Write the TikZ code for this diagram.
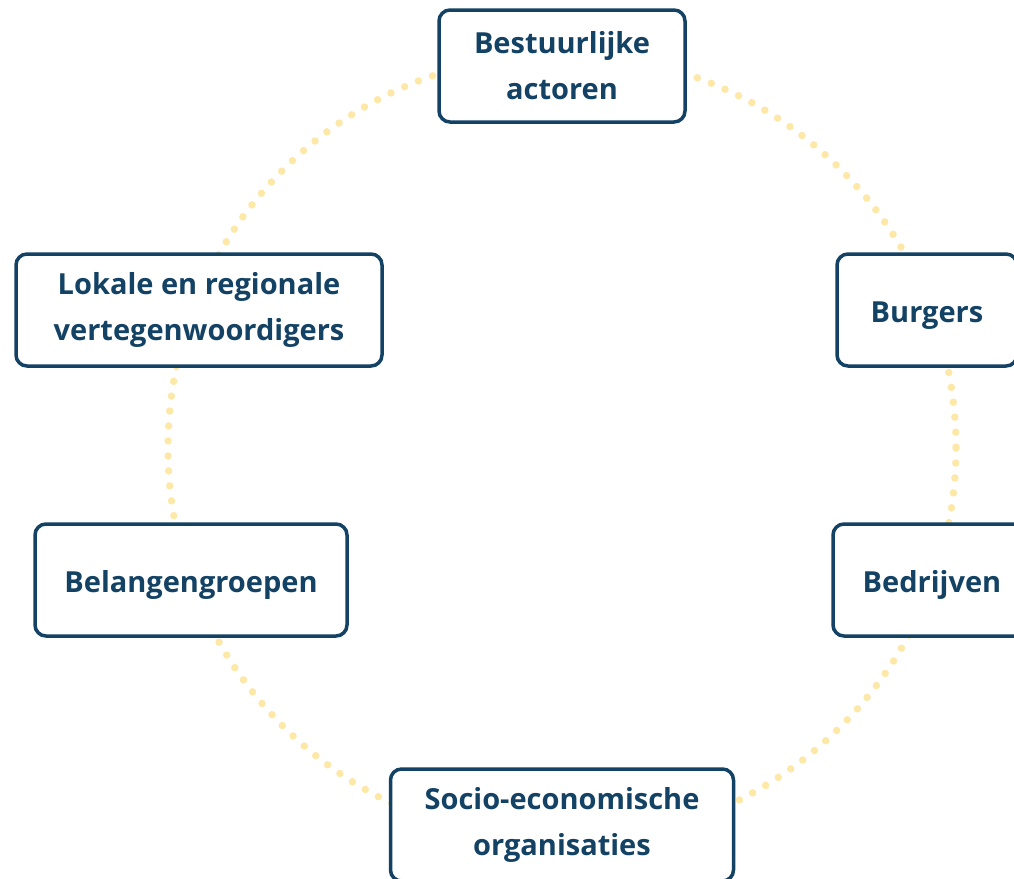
\documentclass[tikz,border=0pt]{standalone}
\usepackage{fontspec}
\setmainfont{Open Sans}
\usetikzlibrary{positioning}
\definecolor{navy}{HTML}{134264}
\definecolor{sand}{HTML}{FDE8A8}
\tikzset{
	actor/.style={
		draw=navy, text=navy, fill=white,
		line width=3.5pt, rounded corners=11pt,
		align=center, inner sep=0pt,
		font=\bfseries\fontsize{29}{46}\selectfont,
		minimum height=112pt},
	oneline/.style={text height=28pt, text depth=3pt},
	ring/.style={draw=sand, line width=7.5pt, line cap=round,
		dash pattern=on 0pt off 15pt}
}

\begin{document}
\begin{tikzpicture}[x=1pt, y=-1pt]
	\useasboundingbox (0,0) rectangle (1014,878);
	\clip (0,0) rectangle (1014,878);
	\coordinate (hub) at (562,448);
	\draw[ring] (hub) circle[radius=394];
	% de zes actoren rond de cirkel
	\node[actor, minimum width=246pt] (bestuur) at (562,66)  {Bestuurlijke\\actoren};
	\node[actor, minimum width=366pt] (lokaal)  at (199,310) {Lokale en regionale\\vertegenwoordigers};
	\node[actor, oneline, minimum width=180pt] (burgers) at (927,310) {Burgers};
	\node[actor, oneline, minimum width=312pt] (belang)  at (191,580) {Belangengroepen};
	\node[actor, oneline, minimum width=198pt] (bedrijf) at (932,580) {Bedrijven};
	\node[actor, minimum width=343pt] (socio)   at (562,825) {Socio-economische\\organisaties};
\end{tikzpicture}
\end{document}
